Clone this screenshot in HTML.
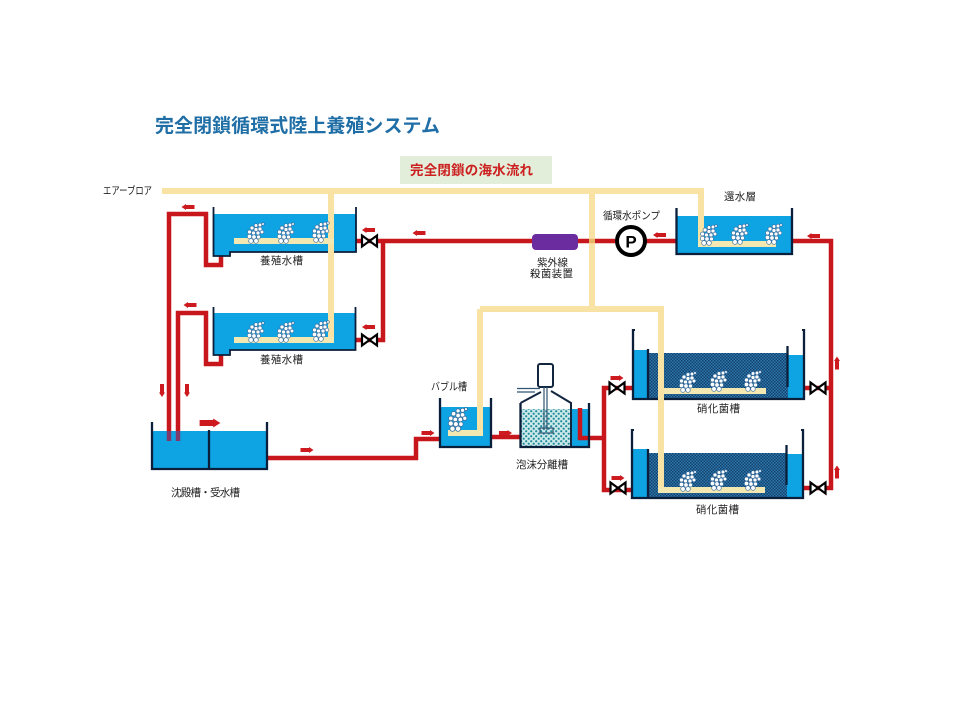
<!DOCTYPE html>
<html lang="ja"><head><meta charset="utf-8"><title>完全閉鎖循環式陸上養殖システム</title>
<style>html,body{margin:0;padding:0;background:#fff}svg{display:block}
text{font-family:"Liberation Sans","Noto Sans CJK JP",sans-serif;fill:#222;font-size:10.500px}</style></head>
<body>
<svg width="960" height="720" viewBox="0 0 960 720" xmlns="http://www.w3.org/2000/svg">
<defs>
<pattern id="hatch" width="3" height="3" patternUnits="userSpaceOnUse"><rect width="3" height="3" fill="#2f79ad"/><rect width="1.500" height="1.500" fill="#123f6b"/><rect x="1.500" y="1.500" width="1.500" height="1.500" fill="#123f6b"/></pattern>
<pattern id="foam" width="5" height="5" patternUnits="userSpaceOnUse"><rect width="5" height="5" fill="#cdeaea"/><circle cx="1.200" cy="1.200" r="1.100" fill="#1f8a9a"/><circle cx="3.700" cy="3.700" r="1.100" fill="#1f8a9a"/></pattern>
<g id="b"><g fill="#fff" stroke="#3b6f9e" stroke-width=".7">
<circle cx="9" cy="2.500" r="1.800"/><circle cx="13" cy="2" r="1.800"/><circle cx="16" cy="1" r="1.300"/>
<circle cx="5" cy="5" r="2"/><circle cx="9" cy="6.500" r="2"/><circle cx="13" cy="6" r="2"/>
<circle cx="2.500" cy="9" r="2"/><circle cx="6.500" cy="10" r="2"/><circle cx="11" cy="10" r="2"/><circle cx="15" cy="9" r="1.800"/>
<circle cx="2.500" cy="13.500" r="2.200"/><circle cx="7" cy="14" r="2.200"/><circle cx="11.500" cy="14" r="2"/>
<circle cx="4" cy="18" r="2.300"/><circle cx="9" cy="18" r="2.300"/></g></g>
<g id="v"><path d="M-7.500-5.500L7.500 5.500V-5.500L-7.500 5.500Z" fill="#fff" stroke="#000" stroke-width="2.200" stroke-linejoin="miter"/></g>
<path id="ar" d="M-6.500-2H2V-3L6.500 0L2 3V2H-6.500Z" fill="#cc1a1f"/>
</defs>
<rect width="960" height="720" fill="#fff"/>

<text x="155" y="132" textLength="285" style="font-size:19px;font-weight:700;fill:#1f6ea6">完全閉鎖循環式陸上養殖システム</text>
<rect x="400" y="156" width="152" height="28" fill="#e2eeda"/>
<text x="410" y="175" textLength="123" style="font-size:13.500px;font-weight:700;fill:#cc1f1f">完全閉鎖の海水流れ</text>

<!-- water -->
<g fill="#0ea4e4">
<path d="M214 214H356V252H230V256H214Z"/>
<path d="M214 313H355V350H230V355H214Z"/>
<rect x="677" y="216" width="115" height="38"/>
<rect x="153" y="431" width="114" height="38"/>
<rect x="440" y="407" width="51" height="39"/>
<rect x="571" y="409" width="18" height="37"/>
<rect x="633" y="350" width="15" height="49"/><rect x="788" y="355" width="16" height="44"/>
<rect x="632" y="449" width="16" height="49"/><rect x="787" y="454" width="16" height="44"/>
</g>
<rect x="648" y="353" width="140" height="45" fill="url(#hatch)"/>
<rect x="648" y="453" width="139" height="45" fill="url(#hatch)"/>
<rect x="521" y="409" width="50" height="37" fill="url(#foam)"/>

<!-- red pipes -->
<g fill="none" stroke="#c8161d" stroke-width="4.500" stroke-linejoin="miter">
<path d="M169 431V214H206V265H221V256"/>
<path d="M178 431V313H206V364H221V355"/>
<path d="M356 241H532M578 241H677"/>
<path d="M355 340H383V241"/>
<path d="M267 458H416V439H440"/>
<path d="M491 437H520"/>
<path d="M580 408V438H603"/>
<path d="M632 388H604V490H632"/>
<path d="M792 241H831V488H803"/>
<path d="M804 388H831"/>
</g>
<g fill="none" stroke="#7d3a6a" stroke-width="4.500"><path d="M169 431V441M178 431V441"/></g>

<!-- tanks -->
<g fill="none" stroke="#0b1f3a" stroke-width="1.800">
<path d="M213.500 207V256H230V252H356V207"/>
<path d="M213.500 307V355H230V350H355.500V307"/>
</g>
<g fill="none" stroke="#0b1f3a" stroke-width="2.300">
<path d="M676.500 208V254H792V208"/>
<path d="M152 422V469H267V422"/>
<path d="M209 430V469"/>
<path d="M440 398V447H491V398"/>
<path d="M520.500 403V447H589V403"/>
<path d="M633 329V399H804V329"/>
<path d="M632 429V498H803V429"/>
<path d="M648 349V399M787.500 346V387"/>
<path d="M648 449V498M786.500 445V485"/>
</g>
<path d="M633 330H635M804 330H802M632 430H634M803 430H801" stroke="#0b1f3a" stroke-width="2"/>
<g fill="none" stroke="#12263f" stroke-width="2">
<path d="M520.500 403L541 392M551 391L571 403V446"/>
<rect x="538" y="364" width="15" height="23" rx="2" fill="#fff"/>
</g>
<g fill="none" stroke="#2f5573" stroke-width="1.200">
<path d="M517 388.500H540M517 392H535"/>
<path d="M544 387V430M547 387V430"/>
<rect x="540" y="428" width="13" height="5"/>
</g>

<!-- air lines -->
<g fill="none" stroke="#f9e3a4" stroke-width="6">
<path d="M162 191H701V244"/>
<path d="M331 191V343"/>
<path d="M592 191V309"/>
<path d="M480 309H661V490"/>
<path d="M480 309V433"/>
</g>
<g fill="none" stroke="#f3e8b2" stroke-width="6">
<path d="M698 244H776M334 241H234M334 340H234M658 490H765M664 391H766M483 433H448"/>
</g>

<!-- bubbles -->
<use href="#b" x="247" y="223"/><use href="#b" x="277" y="223"/><use href="#b" x="312" y="222"/>
<use href="#b" x="247" y="322"/><use href="#b" x="277" y="322"/><use href="#b" x="312" y="321"/>
<use href="#b" x="700" y="225"/><use href="#b" x="731" y="224"/><use href="#b" x="765" y="224"/>
<use href="#b" transform="translate(448 408) scale(1.120 1.150)"/>
<use href="#b" x="679" y="372"/><use href="#b" x="710" y="371"/><use href="#b" x="744" y="371"/>
<use href="#b" x="679" y="471"/><use href="#b" x="710" y="470"/><use href="#b" x="744" y="470"/>

<!-- UV and pump -->
<rect x="532" y="234" width="46" height="16" rx="4" fill="#6a2c9e"/>
<path d="M589 241H595" stroke="#e8b46a" stroke-width="4.500"/>
<circle cx="631" cy="241" r="14" fill="#fff" stroke="#000" stroke-width="4"/>
<text x="631" y="247.500" text-anchor="middle" style="font-size:17px;font-weight:700;fill:#000">P</text>

<!-- valves -->
<use href="#v" x="369.500" y="241"/><use href="#v" x="369.500" y="340"/>
<use href="#v" x="617" y="388"/><use href="#v" x="618" y="488"/>
<use href="#v" x="818" y="388"/><use href="#v" x="818" y="488"/>

<!-- arrows -->
<g>
<use href="#ar" transform="translate(188 207) scale(-1 1)"/>
<use href="#ar" transform="translate(368.500 230) scale(-1 1)"/>
<use href="#ar" transform="translate(190 305) scale(-1 1)"/>
<use href="#ar" transform="translate(368.500 327) scale(-1 1)"/>
<use href="#ar" transform="translate(419 233) scale(-1 1)"/>
<use href="#ar" transform="translate(659.500 235) scale(-1 1)"/>
<use href="#ar" transform="translate(813.500 236) scale(-1 1)"/>
<use href="#ar" transform="translate(162 390.500) rotate(90)"/>
<use href="#ar" transform="translate(187 390.500) rotate(90)"/>
<use href="#ar" transform="translate(210 423) scale(1.600 1.500)"/>
<use href="#ar" transform="translate(307 450)"/>
<use href="#ar" transform="translate(428 433)"/>
<use href="#ar" transform="translate(505.500 433)"/>
<use href="#ar" transform="translate(617 378)"/>
<use href="#ar" transform="translate(618 478)"/>
<use href="#ar" transform="translate(837 363) rotate(-90)"/>
<use href="#ar" transform="translate(837 472) rotate(-90)"/>
</g>

<!-- labels -->
<text x="103" y="194" textLength="49" lengthAdjust="spacingAndGlyphs">エアーブロア</text>
<text x="260" y="264" textLength="43">養殖水槽</text>
<text x="260" y="363" textLength="43">養殖水槽</text>
<text x="537" y="266" textLength="31">紫外線</text>
<text x="530" y="277" textLength="43">殺菌装置</text>
<text x="603" y="219" textLength="57" lengthAdjust="spacingAndGlyphs">循環水ポンプ</text>
<text x="724" y="200" textLength="32">還水層</text>
<text x="431" y="390" textLength="36" lengthAdjust="spacingAndGlyphs">バブル槽</text>
<text x="516" y="468" textLength="52">泡沫分離槽</text>
<text x="697" y="412" textLength="43">硝化菌槽</text>
<text x="696" y="513" textLength="43">硝化菌槽</text>
<text x="171" y="496" textLength="69">沈殿槽・受水槽</text>
</svg>
</body></html>
